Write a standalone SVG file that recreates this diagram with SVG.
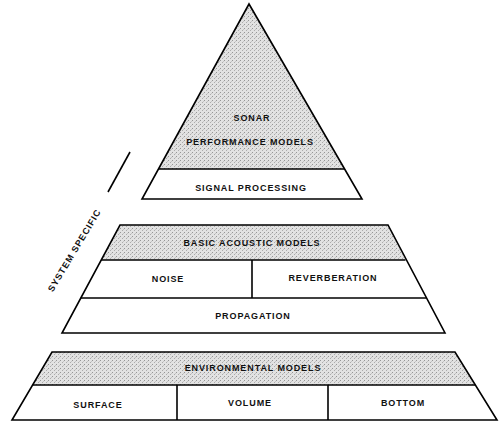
<svg xmlns="http://www.w3.org/2000/svg" width="499" height="426" viewBox="0 0 499 426">
<defs>
<pattern id="stip" width="4" height="4" patternUnits="userSpaceOnUse">
<rect width="4" height="4" fill="#e2e2e2"/>
<rect x="0" y="0" width="1" height="1" fill="#969696"/>
<rect x="2" y="2" width="1" height="1" fill="#acacac"/>
<rect x="3" y="1" width="1" height="1" fill="#c4c4c4"/>
</pattern>
</defs>
<style>
.ln{fill:none;stroke:#000;stroke-width:1.6;stroke-linejoin:miter}
.sh{fill:url(#stip);stroke:none}
.t{font-family:"Liberation Sans",Arial,sans-serif;font-weight:bold;font-size:9px;letter-spacing:0.9px;fill:#111;text-anchor:middle}
</style>
<rect width="499" height="426" fill="#fff"/>
<g id="top">
<polygon class="sh" points="249,4 158.5,169 344.6,169"/>
<polygon class="ln" points="249,4 142,199 362,199"/>
<line class="ln" x1="158.5" y1="169" x2="344.6" y2="169"/>
<text class="t" x="252" y="121">SONAR</text>
<text class="t" x="250" y="145">PERFORMANCE MODELS</text>
<text class="t" x="251" y="191">SIGNAL PROCESSING</text>
</g>
<g id="middle">
<polygon class="sh" points="120,225 388,225 405.5,260 101.2,260"/>
<polygon class="ln" points="120,225 388,225 445,333 62,333"/>
<line class="ln" x1="101.2" y1="260" x2="405.5" y2="260"/>
<line class="ln" x1="80.8" y1="298" x2="426.5" y2="298"/>
<line class="ln" x1="252" y1="260" x2="252" y2="298"/>
<text class="t" x="252" y="246">BASIC ACOUSTIC MODELS</text>
<text class="t" x="168" y="282">NOISE</text>
<text class="t" x="333" y="281">REVERBERATION</text>
<text class="t" x="253" y="319">PROPAGATION</text>
</g>
<g id="bottom">
<polygon class="sh" points="52,352 455,352 475.4,385 32.6,385"/>
<polygon class="ln" points="52,352 455,352 497,420 12,420"/>
<line class="ln" x1="32.6" y1="385" x2="475.4" y2="385"/>
<line class="ln" x1="177" y1="385" x2="177" y2="420"/>
<line class="ln" x1="328" y1="385" x2="328" y2="420"/>
<text class="t" x="253" y="371">ENVIRONMENTAL MODELS</text>
<text class="t" x="98" y="408">SURFACE</text>
<text class="t" x="250" y="406">VOLUME</text>
<text class="t" x="403" y="406">BOTTOM</text>
</g>
<g id="connectors">
<line class="ln" x1="108" y1="192" x2="130" y2="152" stroke-width="1.2"/>
<text class="t" transform="translate(77,252) rotate(-59)" x="0" y="0">SYSTEM SPECIFIC</text>
</g>
</svg>
